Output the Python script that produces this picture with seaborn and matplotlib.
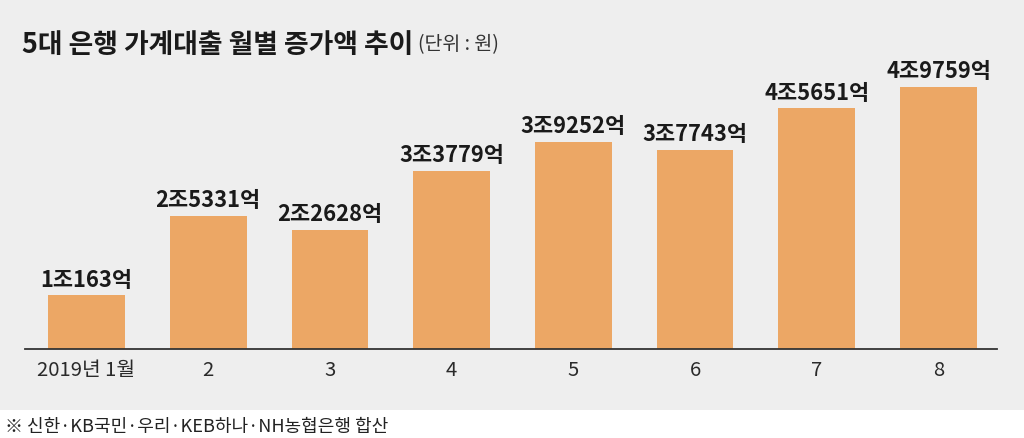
import matplotlib
matplotlib.use("Agg")
import matplotlib.pyplot as plt
import seaborn as sns
import pandas as pd
from matplotlib.patches import Rectangle

months = ["2019년 1월", "2", "3", "4", "5", "6", "7", "8"]
increase_eok = [10163, 25331, 22628, 33779, 39252, 37743, 45651, 49759]
value_labels = ["1조163억", "2조5331억", "2조2628억", "3조3779억",
                "3조9252억", "3조7743억", "4조5651억", "4조9759억"]

title_main = "5대 은행 가계대출 월별 증가액 추이"
title_unit = "(단위 : 원)"
footnote = "※ 신한·KB국민·우리·KEB하나·NH농협은행 합산"

sns.set_theme(style="white")
plt.rcParams['font.family'] = ['Noto Sans CJK KR', 'DejaVu Sans']

W, H = 1024, 439
fig = plt.figure(figsize=(W / 100, H / 100), dpi=100)
fig.patch.set_facecolor("white")
bg = Rectangle((0, (H - 411) / H), 1, 411 / H, transform=fig.transFigure,
               facecolor="#EEEEEE", edgecolor="none", zorder=-10)
fig.patches.append(bg)

ax = fig.add_axes([25 / W, (H - 350) / H, (997 - 25) / W, (350 - 60) / H])
ax.set_facecolor("none")
ax.set_zorder(5)

df = pd.DataFrame({"month": months, "value": increase_eok})
sns.barplot(data=df, x="month", y="value", color="#ECA765", saturation=1,
            width=0.63, ax=ax, edgecolor="none")

ax.set_xlim(-0.505, 7.48)
ax.set_ylim(0, 55028)

for i, (v, lab) in enumerate(zip(increase_eok, value_labels)):
    ax.annotate(lab, (i, v), xytext=(0, 3.5), textcoords="offset points",
                ha="center", va="bottom", fontsize=15.8, fontweight="bold",
                color="#1a1a1a")

for s in ["top", "right", "left"]:
    ax.spines[s].set_visible(False)
ax.spines["bottom"].set_color("#333333")
ax.spines["bottom"].set_linewidth(1.3)
ax.set_yticks([])
ax.set_xlabel("")
ax.set_ylabel("")
ax.tick_params(axis="x", length=0, pad=7, labelsize=14.6, labelcolor="#2a2a2a")

t = fig.text(22 / W, (H - 45) / H, title_main, fontsize=19.3, fontweight="bold",
             color="#1a1a1a", va="center", ha="left")
fig.canvas.draw()
bb = t.get_window_extent()
fig.text((bb.x1 + 5) / W, (H - 45) / H, title_unit, fontsize=14, color="#333333",
         va="center", ha="left")
fig.text(5 / W, (H - 427) / H, footnote, fontsize=13, color="#222222",
         va="center", ha="left")

fig.savefig("out.png", dpi=100)
